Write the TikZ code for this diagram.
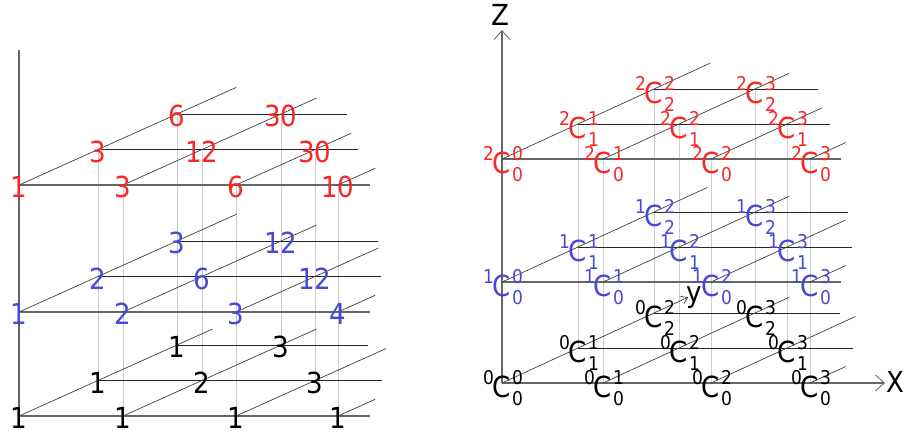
\documentclass[tikz,border=0pt]{standalone}
\usepackage{fontspec}
\setmainfont{DejaVu Sans Condensed}
\usetikzlibrary{arrows.meta}

\definecolor{zred}{RGB}{250,38,38}
\definecolor{zblue}{RGB}{72,72,214}

% C with level prescript, upper and lower index
\newcommand{\ck}[3]{%
  \llap{\fontsize{19}{19}\selectfont\raisebox{13pt}{#1}\kern-1pt}C%
  \rlap{\kern1pt\fontsize{19}{19}\selectfont\raisebox{13pt}{#2}}%
  \rlap{\kern1pt\fontsize{19}{19}\selectfont\raisebox{-8pt}{#3}}}

\tikzset{
  axisline/.style={draw=black!60, line width=1.5pt},
  rowline/.style={draw=black!85, line width=0.9pt},
  diagline/.style={draw=black!75, line width=0.7pt},
  dropline/.style={draw=black!20, line width=1pt},
  num/.style={font=\fontsize{29}{29}\selectfont, inner sep=0pt},
  barb/.style={-{Straight Barb[length=9pt,width=16pt,line width=0.8pt]}},
}

\begin{document}
\begin{tikzpicture}[x=1pt,y=-1pt]
    \useasboundingbox (0,0) rectangle (906,439);

    % left lattice
    \foreach \z/\zz in {0/416,1/312,2/185}{
      \foreach \x/\xx in {0/19,1/123,2/236,3/338}{
        \foreach \y in {0,1,2}{
          \coordinate (l\z\x\y) at ({\xx+79*\y},{\zz-35.5*\y});
        }
      }
    }
    \foreach \z/\zz/\ea/\eb/\ec/\la/\lc in {
        0/416/370/382/368/2.45/1.9,
        1/312/370/381/378/2.75/1.8,
        2/185/370/358/347/2.75/1.46}{
      \coordinate (lr\z0) at (\ea,\zz);
      \coordinate (lr\z1) at (\eb,{\zz-35.5});
      \coordinate (lr\z2) at (\ec,{\zz-71});
      \coordinate (ld\z0) at ({19+79*\la},{\zz-35.5*\la});
      \coordinate (ld\z1) at ({123+79*2.45},{\zz-35.5*2.45});
      \coordinate (ld\z2) at ({236+79*\lc},{\zz-35.5*\lc});
      \coordinate (ld\z3) at ({338+79*0.47},{\zz-35.5*0.47});
    }
    \foreach \x/\y in {1/0,2/0,3/0,0/1,1/1,2/1,0/2,1/2}
      \draw[dropline] (l2\x\y) -- (l0\x\y);
    \coordinate (ltop) at (19,50);
    \draw[axisline] (ltop) -- (l000);
    \foreach \z in {0,1,2}{
      \draw[axisline] (l\z00) -- (lr\z0);
      \draw[rowline] (l\z01) -- (lr\z1);
      \draw[rowline] (l\z02) -- (lr\z2);
      \foreach \x in {0,...,3}
        \draw[diagline] (l\z\x0) -- (ld\z\x);
    }
    \foreach \p/\t in {000/1,010/1,020/1,030/1,001/1,011/2,021/3,002/1,012/3}
      \node[num] (n\p) at ([yshift=-2pt]l\p) {\t};
    \foreach \p/\t in {100/1,110/2,120/3,130/4,101/2,111/6,121/12,102/3,112/12}
      \node[num,text=zblue] (n\p) at ([yshift=-2pt]l\p) {\t};
    \foreach \p/\t in {200/1,210/3,220/6,230/10,201/3,211/12,221/30,202/6,212/30}
      \node[num,text=zred] (n\p) at ([yshift=-2pt]l\p) {\t};

    % right lattice
    \foreach \z/\zz in {0/383,1/282,2/159}{
      \foreach \x/\xx in {0/502,1/603,2/711,3/810}{
        \foreach \y in {0,1,2}{
          \coordinate (r\z\x\y) at ({\xx+76*\y},{\zz-35*\y});
        }
      }
    }
    \foreach \z/\zz/\ea/\eb/\ec/\la/\lc in {
        0/383/885/853/840/2.45/1.9,
        1/282/841/852/848/2.7/1.77,
        2/159/841/830/818/2.74/1.46}{
      \coordinate (rr\z0) at (\ea,\zz);
      \coordinate (rr\z1) at (\eb,{\zz-35});
      \coordinate (rr\z2) at (\ec,{\zz-70});
      \coordinate (rd\z0) at ({502+76*\la},{\zz-35*\la});
      \coordinate (rd\z1) at ({603+76*2.45},{\zz-35*2.45});
      \coordinate (rd\z2) at ({711+76*\lc},{\zz-35*\lc});
      \coordinate (rd\z3) at ({810+76*0.47},{\zz-35*0.47});
    }
    \foreach \x/\y in {1/0,2/0,3/0,0/1,1/1,2/1,0/2,1/2}
      \draw[dropline] (r2\x\y) -- (r0\x\y);
    \coordinate (ztip) at (502,30);
    \draw[axisline,barb] (r000) -- (ztip);
    \draw[axisline,barb] (r000) -- (rr00);
    \draw[diagline,-{Straight Barb[length=6pt,width=8pt]}] (r000) -- (rd00);
    \draw[rowline] (r001) -- (rr01);
    \draw[rowline] (r002) -- (rr02);
    \foreach \x in {1,2,3}
      \draw[diagline] (r0\x0) -- (rd0\x);
    \foreach \z in {1,2}{
      \draw[axisline] (r\z00) -- (rr\z0);
      \draw[rowline] (r\z01) -- (rr\z1);
      \draw[rowline] (r\z02) -- (rr\z2);
      \foreach \x in {0,...,3}
        \draw[diagline] (r\z\x0) -- (rd\z\x);
    }
    \foreach \z/\c in {0/black,1/zblue,2/zred}{
      \foreach \x/\y/\s in {0/0/0,1/0/1,2/0/2,3/0/3,0/1/1,1/1/2,2/1/3,0/2/2,1/2/3}{
        \node[num,text=\c,anchor=base] (c\z\x\y) at ([yshift=-14pt]r\z\x\y) {\ck{\z}{\s}{\y}};
      }
    }
    \node[num,anchor=base] (zlab) at (500,25) {Z};
    \node[num,anchor=base] (xlab) at (895,392) {X};
    \node[num,anchor=base] (ylab) at (694,302) {y};
\end{tikzpicture}
\end{document}
